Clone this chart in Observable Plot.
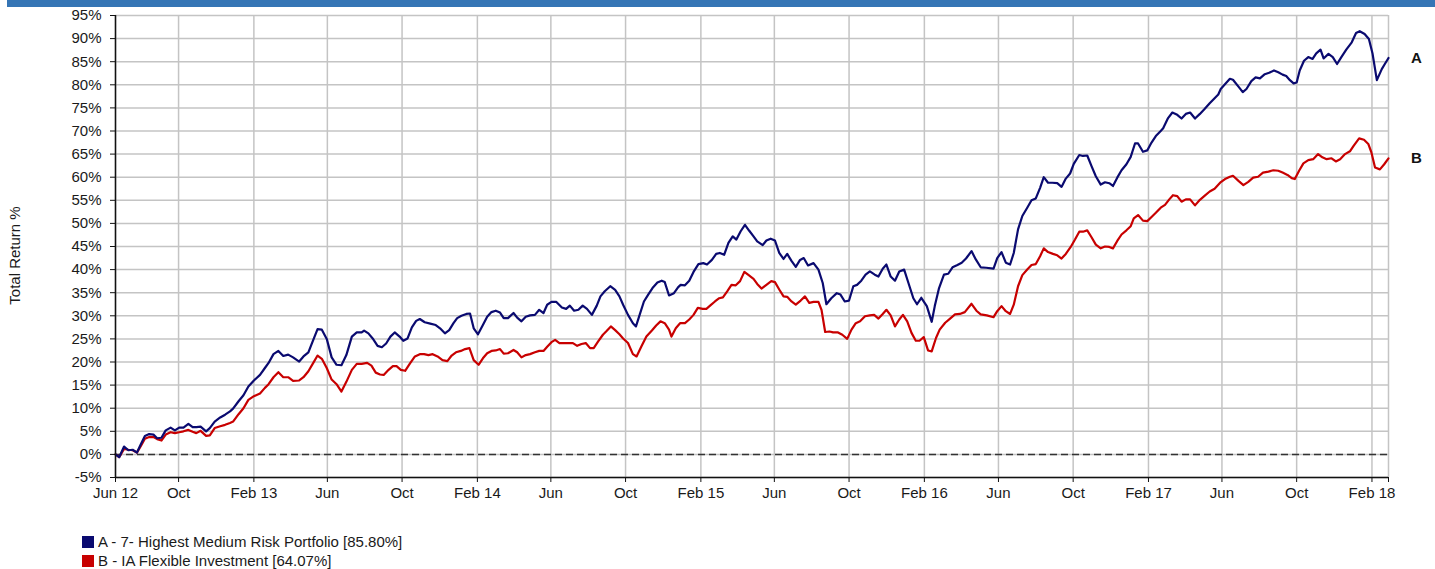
<!DOCTYPE html>
<html>
<head>
<meta charset="utf-8">
<script src="https://cdn.jsdelivr.net/npm/d3@7"></script>
<script src="https://cdn.jsdelivr.net/npm/@observablehq/plot@0.6"></script>
<style>
  html, body { margin: 0; padding: 0; background: #fff; }
  #wrap { position: relative; width: 1435px; height: 569px; overflow: hidden; font-family: "Liberation Sans", Arial, sans-serif; }
  #bar { position: absolute; left: 7px; top: 0; width: 1428px; height: 7px; background: #3575b5; }
  #chart { position: absolute; left: 0; top: 0; }
  .leg { position: absolute; left: 82px; font-size: 15px; color: #1a1a1a; height: 18px; line-height: 18px; white-space: nowrap; }
  .leg .sw { display: inline-block; width: 12px; height: 12px; margin-right: 4px; vertical-align: -1px; }
</style>
</head>
<body>
<div id="wrap">
  <div id="chart"></div>
  <div id="bar"></div>
  <div id="legend"></div>
</div>
<script>
// ---- data (days since start date, total return %) ----
const startDate = "2012-06-20";
const seriesNames = ["A - 7- Highest Medium Risk Portfolio [85.80%]", "B - IA Flexible Investment [64.07%]"];
const seriesKeys = ["A", "B"];
const seriesColors = ["#0a0a70", "#c80000"];

const daysA = [0,6,14,21,28,35,41,48,55,62,68,75,82,90,97,104,111,119,126,132,139,148,154,162,171,179,187,192,201,209,217,226,236,244,250,258,266,274,282,290,300,307,315,323,330,337,345,353,361,369,377,386,394,402,
406,413,420,428,435,442,449,456,464,470,477,484,491,497,505,514,523,530,538,545,552,558,565,573,579,585,592,600,607,614,621,628,634,641,650,656,663,670,677,685,692,699,705,712,720,729,736,742,749,756,763,770,778,786,792,799,808,816,823,829,837,845,850,856,
863,870,877,885,892,897,904,912,919,923,930,937,944,952,960,966,974,981,987,994,1001,1008,1014,1021,1028,1035,1042,1048,1057,1063,1070,1077,1084,1091,1097,1104,1111,1118,1124,1131,1140,1148,1155,1161,1169,1178,1184,1191,1198,1205,1211,1218,1225,1232,1240,1246,1253,1259,1266,1273,1280,1288,1295,1303,1309,
1316,1325,1333,1338,1345,1353,1360,1367,1375,1382,1389,1398,1405,1413,1422,1434,1440,1447,1454,1461,1467,1474,1481,1489,1496,1503,1510,1516,1523,1530,1538,1545,1552,1559,1565,1574,1580,1587,1594,1601,1609,1616,1623,1629,1636,1643,1651,1658,1665,1670,1678,1685,1692,1699,1707,
1711,1719,1726,1734,1741,1748,1755,1763,1771,1779,1787,1795,1801,1805,1813,1820,1825,1834,1841,1847,1855,1862,1869,1877,1884,1892,1899,1906,1912,1918,1924,1929,1934,1941,1948,1955,1961,1968,1973,1981,1988,1995,2002,2010,2019,2026,2032,2040,2047,2053,2060,2068,2073,2079];

const returnA = [0.0,-0.6,1.7,0.9,1.0,0.4,2.1,4.0,4.4,4.3,3.5,3.6,5.2,5.8,5.2,5.8,5.8,6.6,5.9,5.9,6.0,5.0,5.7,7.1,8.0,8.6,9.3,9.9,11.5,12.8,14.7,16.0,17.2,18.7,19.8,21.7,22.4,21.3,21.6,21.0,20.1,21.2,22.1,24.8,27.1,27.0,25.0,21.0,19.4,19.3,21.5,25.5,26.4,26.4,
26.8,26.2,25.1,23.5,23.2,24.0,25.5,26.4,25.5,24.6,25.1,27.5,28.9,29.3,28.6,28.3,28.0,27.3,26.2,26.9,28.4,29.5,30.0,30.4,30.5,27.3,26.0,28.0,29.8,30.8,31.1,30.7,29.5,29.5,30.6,29.6,28.8,29.8,30.1,30.2,31.3,30.6,32.4,33.0,33.0,31.8,31.5,32.2,31.1,31.3,32.2,31.5,30.2,32.2,34.2,35.3,36.4,35.6,34.2,32.4,30.2,28.4,27.7,30.2,
33.1,34.6,36.0,37.2,37.6,37.3,34.4,34.9,36.2,36.7,36.6,37.6,39.5,41.2,41.4,41.1,42.1,43.4,43.6,43.2,45.8,47.2,46.5,48.3,49.7,48.4,47.2,46.1,45.3,46.3,46.7,46.3,43.6,42.3,43.4,41.9,40.6,42.1,42.5,40.9,41.4,40.0,37.1,32.5,33.8,34.9,34.6,33.1,33.3,36.4,36.7,37.6,38.9,39.6,38.9,38.5,40.2,41.1,38.5,37.6,39.6,40.0,37.1,33.8,32.5,
33.9,32.1,28.7,32.1,36.0,38.9,39.1,40.5,41.0,41.5,42.4,44.0,42.2,40.5,40.4,40.2,42.5,43.8,41.5,41.1,43.6,48.7,51.6,53.4,55.0,55.4,57.7,60.0,58.8,58.8,58.7,57.9,59.7,60.8,62.9,64.8,64.6,64.7,62.4,60.2,58.4,58.9,58.7,58.1,59.9,61.5,62.8,64.4,67.3,67.3,65.5,65.8,67.5,68.9,70.0,
70.6,72.8,74.0,73.5,72.7,73.7,74.0,72.7,73.7,74.8,76.0,77.1,77.9,79.1,80.3,81.3,81.1,79.6,78.4,79.1,80.8,81.6,81.4,82.3,82.6,83.1,82.7,82.2,81.9,81.0,80.3,80.5,83.1,85.2,86.0,85.6,86.8,87.6,85.7,86.7,86.0,84.5,86.0,87.6,89.2,91.2,91.6,91.0,89.9,86.7,81.0,83.4,84.5,85.8];

const daysB = [0,6,14,21,28,35,41,48,55,62,68,75,82,90,97,104,111,119,126,132,139,148,154,162,171,179,187,192,201,209,217,226,236,244,250,258,266,274,282,290,300,307,315,323,330,337,345,353,361,369,377,386,394,402,
411,418,425,432,438,446,453,459,466,473,481,489,497,504,511,518,526,534,542,549,556,564,571,578,585,593,600,607,614,621,628,634,641,650,656,663,670,677,685,692,699,705,712,718,725,732,739,747,754,761,768,775,781,788,796,802,809,816,823,829,837,845,851,
859,867,876,883,890,897,904,908,915,922,930,937,944,951,959,965,972,979,986,992,999,1006,1013,1020,1027,1033,1042,1048,1055,1063,1071,1077,1084,1091,1097,1104,1111,1119,1126,1133,1140,1148,1153,1159,1166,1172,1180,1187,1195,1202,1209,1216,1224,1232,1239,1246,1253,1259,1266,1273,1280,1286,1293,1300,1307,
1313,1320,1327,1333,1340,1346,1355,1363,1371,1379,1387,1398,1406,1413,1423,1434,1440,1447,1454,1461,1467,1474,1481,1489,1496,1503,1510,1516,1523,1531,1538,1545,1552,1560,1567,1574,1580,1587,1594,1601,1609,1616,1623,1629,1636,1643,1651,1658,1663,1670,1678,1685,1692,1699,1707,1714,1721,1727,1734,
1741,1748,1755,1763,1771,1779,1787,1795,1804,1812,1820,1825,1834,1842,1850,1858,1866,1874,1883,1891,1899,1906,1914,1921,1926,1933,1940,1948,1956,1964,1971,1978,1986,1993,2000,2008,2016,2022,2031,2039,2046,2051,2057,2065,2072,2079];

const returnB = [0.0,-0.6,1.2,1.0,0.9,0.4,1.7,3.4,3.75,3.75,3.3,3.0,4.3,4.8,4.6,4.8,5.0,5.3,4.9,4.6,5.1,4.0,4.1,5.7,6.1,6.4,6.8,7.1,8.7,10.0,11.8,12.6,13.2,14.4,15.2,16.7,17.8,16.7,16.7,15.9,16.0,16.7,18.0,19.8,21.4,20.7,18.7,16.2,15.2,13.6,15.7,18.3,19.6,19.6,
19.8,19.2,17.7,17.3,17.2,18.3,19.1,19.1,18.3,18.1,19.7,21.2,21.7,21.7,21.5,21.7,21.2,20.4,20.2,21.4,22.1,22.4,22.8,23.0,20.4,19.4,20.8,21.9,22.4,22.5,22.8,21.8,21.9,22.6,22.1,21.0,21.5,21.7,22.1,22.4,22.4,23.3,24.3,24.8,24.1,24.1,24.1,24.1,23.5,23.9,24.1,23.0,23.0,24.4,25.9,26.7,27.7,26.9,26.0,25.1,24.1,21.7,21.2,
23.4,25.5,26.8,27.9,28.8,28.4,27.0,25.5,27.3,28.4,28.4,29.2,30.2,31.7,31.5,31.5,32.3,33.1,33.8,34.0,35.3,36.7,36.6,37.5,39.5,38.9,38.0,36.9,35.9,36.7,37.5,37.3,35.7,34.2,34.1,33.1,32.4,33.3,34.2,32.8,33.0,33.0,31.3,26.5,26.6,26.4,26.4,25.9,25.0,27.0,28.4,28.8,29.9,30.1,30.2,29.4,30.4,31.3,30.1,27.7,29.2,30.2,28.8,26.3,24.6,
24.6,25.4,22.5,22.3,25.2,27.0,28.5,29.4,30.3,30.4,30.8,32.6,31.1,30.3,30.1,29.7,31.0,32.1,31.0,30.4,32.4,36.4,38.8,40.0,41.0,41.2,42.9,44.6,43.8,43.4,43.1,42.4,43.4,44.9,46.5,48.2,48.2,48.5,47.0,45.4,44.6,45.0,44.9,44.6,46.2,47.6,48.5,49.4,51.1,51.8,50.6,50.5,51.4,52.3,53.4,54.0,55.2,56.1,55.9,
54.7,55.2,55.2,53.9,55.1,56.0,56.9,57.5,58.8,59.6,60.1,60.3,59.2,58.3,59.0,59.9,60.1,61.0,61.2,61.5,61.4,61.0,60.5,59.8,59.6,61.4,63.0,63.7,63.9,65.0,64.3,63.9,64.1,63.4,63.9,65.0,65.6,66.8,68.4,68.1,67.2,65.4,62.1,61.7,62.8,64.07];

const yTicks = [-5,0,5,10,15,20,25,30,35,40,45,50,55,60,65,70,75,80,85,90,95];
const xTickDates = ["2012-06-20","2012-10-01","2013-02-01","2013-06-01","2013-10-01","2014-02-01","2014-06-01","2014-10-01","2015-02-01","2015-06-01","2015-10-01","2016-02-01","2016-06-01","2016-10-01","2017-02-01","2017-06-01","2017-10-01","2018-02-01","2018-02-28"];
const xTickLabels = ["Jun 12","Oct","Feb 13","Jun","Oct","Feb 14","Jun","Oct","Feb 15","Jun","Oct","Feb 16","Jun","Oct","Feb 17","Jun","Oct","Feb 18",""];

// ---- build ----
const start = new Date(startDate + "T00:00:00Z");
const toDate = d => new Date(start.getTime() + d * 864e5);
const rowsA = daysA.map((d, i) => ({date: toDate(d), value: returnA[i]}));
const rowsB = daysB.map((d, i) => ({date: toDate(d), value: returnB[i]}));
const tickDates = xTickDates.map(s => new Date(s + "T00:00:00Z"));
const labelMap = new Map(tickDates.map((d, i) => [+d, xTickLabels[i]]));
const endDate = toDate(daysA[daysA.length - 1]);
const endLabels = [
  {name: seriesKeys[0], date: rowsA[rowsA.length - 1].date, value: rowsA[rowsA.length - 1].value},
  {name: seriesKeys[1], date: rowsB[rowsB.length - 1].date, value: rowsB[rowsB.length - 1].value}
];

const chart = Plot.plot({
  width: 1435,
  height: 530,
  marginTop: 15,
  marginLeft: 115,
  marginRight: 47,
  marginBottom: 53,
  style: {fontFamily: '"Liberation Sans", Arial, sans-serif', fontSize: "15px", color: "#1a1a1a", background: "transparent", overflow: "visible"},
  x: {type: "utc", domain: [start, endDate]},
  y: {domain: [-5, 95]},
  marks: [
    Plot.ruleY(yTicks, {stroke: "#c4c4c4", strokeWidth: 1.5}),
    Plot.ruleX(tickDates, {stroke: "#c4c4c4", strokeWidth: 1.5}),
    Plot.ruleY([0], {stroke: "#333", strokeDasharray: "7,4", strokeWidth: 1.5}),
    Plot.lineY(rowsB, {x: "date", y: "value", stroke: seriesColors[1], strokeWidth: 2.2}),
    Plot.lineY(rowsA, {x: "date", y: "value", stroke: seriesColors[0], strokeWidth: 2.2}),
    Plot.ruleX([start], {stroke: "#111", strokeWidth: 1.5}),
    Plot.ruleY([-5], {stroke: "#111", strokeWidth: 1.5}),
    Plot.axisY({ticks: yTicks, tickFormat: d => d + "%", tickSize: 5, tickPadding: 9, label: null, stroke: "#111"}),
    Plot.axisX({ticks: tickDates, tickFormat: d => labelMap.get(+d), tickSize: 5, tickPadding: 5, label: null, stroke: "#111"}),
    Plot.text(endLabels, {x: "date", y: "value", text: "name", dx: 28, fontWeight: "bold", fontSize: 15, fill: "#111"}),
    Plot.text(["Total Return %"], {frameAnchor: "left", textAnchor: "middle", dx: -100, dy: 9, rotate: -90, fontSize: 15, fill: "#1a1a1a"})
  ]
});
document.getElementById("chart").appendChild(chart);

// legend below chart
const legend = document.getElementById("legend");
seriesNames.forEach((name, i) => {
  const item = document.createElement("div");
  item.className = "leg";
  item.style.top = (533 + i * 19) + "px";
  const sw = document.createElement("span");
  sw.className = "sw";
  sw.style.background = seriesColors[i];
  item.appendChild(sw);
  item.appendChild(document.createTextNode(name));
  legend.appendChild(item);
});
</script>
</body>
</html>
